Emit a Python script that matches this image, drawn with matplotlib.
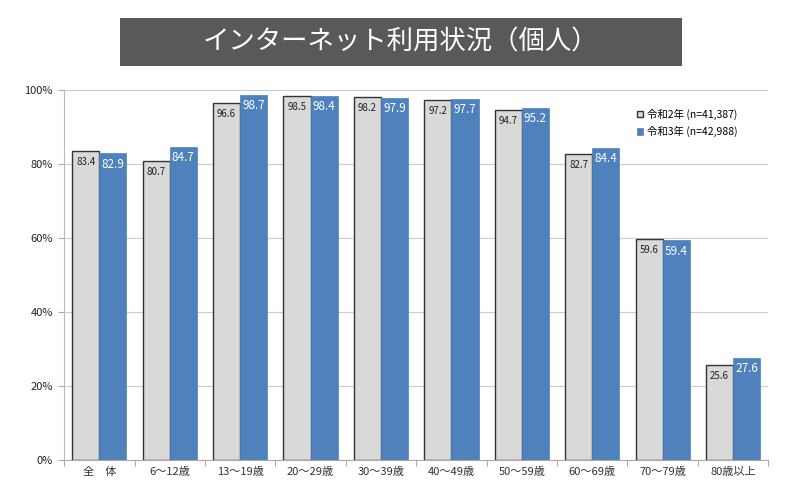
import numpy as np
from matplotlib import pyplot as plt
from matplotlib.patches import Rectangle

plt.rcParams['font.family'] = ['Noto Sans CJK JP', 'DejaVu Sans']

categories = ['全　体', '6〜12歳', '13〜19歳', '20〜29歳', '30〜39歳',
              '40〜49歳', '50〜59歳', '60〜69歳', '70〜79歳', '80歳以上']
r2 = [83.4, 80.7, 96.6, 98.5, 98.2, 97.2, 94.7, 82.7, 59.6, 25.6]
r3 = [82.9, 84.7, 98.7, 98.4, 97.9, 97.7, 95.2, 84.4, 59.4, 27.6]
labels = ['令和2年 (n=41,387)', '令和3年 (n=42,988)']
title = 'インターネット利用状況（個人）'

gray = '#d9d9d9'
blue = '#4f81bd'

fig = plt.figure(figsize=(7.92, 4.95), dpi=100)
ax = fig.add_axes([0.081, 0.071, 0.889, 0.747])

x = np.arange(len(categories))
w = 0.385
ax.bar(x - w / 2, r2, w, color=gray, edgecolor='#333333', linewidth=1.0, label=labels[0])
ax.bar(x + w / 2, r3, w, color=blue, edgecolor=blue, linewidth=0.5, label=labels[1])

for xi, v in zip(x, r2):
    ax.text(xi - w / 2, v - 1.6, f'{v:.1f}', ha='center', va='top', fontsize=7, color='#222222')
for xi, v in zip(x, r3):
    ax.text(xi + w / 2, v - 1.2, f'{v:.1f}', ha='center', va='top', fontsize=8.5, color='white')

ax.set_xlim(-0.5, 9.5)
ax.set_ylim(0, 100)
ax.set_yticks([0, 20, 40, 60, 80, 100])
ax.set_yticklabels(['0%', '20%', '40%', '60%', '80%', '100%'], fontsize=8, color='#222222')
ax.set_xticks(np.arange(-0.5, 10, 1), minor=False)
ax.set_xticklabels([])
ax.set_xticks(x, minor=True)
ax.set_xticklabels(categories, minor=True, fontsize=8, color='#333333')
ax.tick_params(axis='x', which='minor', length=0, pad=5)
ax.tick_params(axis='x', which='major', length=4, color='#aaaaaa')
ax.tick_params(axis='y', length=4, color='#aaaaaa', pad=4)
ax.grid(axis='y', color='#cccccc', linewidth=0.8)
ax.set_axisbelow(True)
for s in ['top', 'right']:
    ax.spines[s].set_visible(False)
ax.spines['left'].set_color('#bbbbbb')
ax.spines['bottom'].set_color('#aaaaaa')

ax.legend(loc='upper left', bbox_to_anchor=(0.8, 0.975), frameon=False, fontsize=7.5,
          handlelength=0.6, handleheight=0.6, handletextpad=0.4, labelspacing=0.6)

# title box
fig.patches.append(Rectangle((0.152, 0.867), 0.709, 0.097, transform=fig.transFigure,
                             facecolor='#595959', edgecolor='none'))
fig.text(0.506, 0.915, title, ha='center', va='center', fontsize=19, color='white')

fig.savefig('out.png', dpi=100)
